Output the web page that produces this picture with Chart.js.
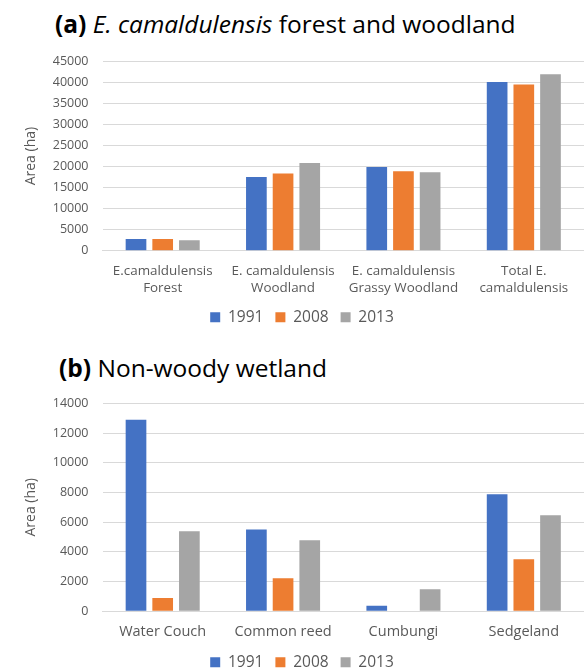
<!DOCTYPE html>
<html>
<head>
<meta charset="utf-8">
<script src="https://cdn.jsdelivr.net/npm/chart.js@4/dist/chart.umd.min.js"></script>
<style>
  html, body { margin: 0; padding: 0; background: #fff; width: 584px; height: 668px; overflow: hidden; }
  #wrap { position: relative; width: 584px; height: 668px; }
  .ttl { position: absolute; font-family: "Open Sans", sans-serif; font-size: 24.5px; line-height: 28px; color: #000; white-space: nowrap; }
  .ttl b { font-weight: 700; }
  .ttl i { font-style: italic; }
  canvas { position: absolute; left: 0; }
</style>
</head>
<body>
<div id="wrap">
  <div class="ttl" style="left:55px; top:10px;"><b>(a)</b> <i>E. camaldulensis</i> forest and woodland</div>
  <canvas id="chartA" width="584" height="300" style="top:40px;"></canvas>
  <div class="ttl" style="left:59px; top:354px;"><b>(b)</b> Non-woody wetland</div>
  <canvas id="chartB" width="584" height="350" style="top:340px;"></canvas>
</div>
<script>
// Survey years
const years = ['1991', '2008', '2013'];
const yearColors = ['#4472C4', '#ED7D31', '#A5A5A5'];

// (a) E. camaldulensis forest and woodland, area in hectares
const categoriesA = [
  ['E.camaldulensis', 'Forest'],
  ['E. camaldulensis', 'Woodland'],
  ['E. camaldulensis', 'Grassy Woodland'],
  ['Total E.', 'camaldulensis']
];
const forest1991 = [2800, 17550, 19900, 40100];
const forest2008 = [2800, 18350, 18900, 39500];
const forest2013 = [2500, 20850, 18650, 41950];
const ticksA = { max: 45000, step: 5000 };

// (b) Non-woody wetland, area in hectares
const categoriesB = ['Water Couch', 'Common reed', 'Cumbungi', 'Sedgeland'];
const wetland1991 = [12900, 5500, 380, 7880];
const wetland2008 = [900, 2220, 0, 3500];
const wetland2013 = [5380, 4780, 1480, 6460];
const ticksB = { max: 14000, step: 2000 };

const FONT = '"Open Sans", sans-serif';
const GREY_TEXT = '#595959';
const GRID = '#d9d9d9';

function buildChart(canvasId, labels, series, ticks, pad, xHeight, xFont) {
  return new Chart(document.getElementById(canvasId), {
    type: 'bar',
    data: {
      labels: labels,
      datasets: series.map((values, i) => ({
        label: years[i],
        data: values,
        backgroundColor: yearColors[i],
        borderWidth: 0,
        categoryPercentage: 0.665,
        barPercentage: 0.775
      }))
    },
    options: {
      responsive: false,
      animation: false,
      layout: { padding: pad },
      plugins: {
        tooltip: { enabled: false },
        legend: {
          position: 'bottom',
          labels: {
            boxWidth: 10,
            boxHeight: 10,
            padding: 12,
            color: GREY_TEXT,
            font: { family: FONT, size: 15.5 }
          }
        }
      },
      scales: {
        x: {
          grid: { drawOnChartArea: false, drawTicks: false },
          border: { display: true, color: GRID, width: 1 },
          ticks: {
            color: GREY_TEXT,
            padding: 12,
            maxRotation: 0,
            autoSkip: false,
            font: { family: FONT, size: xFont, lineHeight: 1.25 }
          },
          afterFit: s => { s.height = xHeight; }
        },
        y: {
          min: 0,
          max: ticks.max,
          grid: { color: GRID, lineWidth: 1, drawTicks: false },
          border: { display: false },
          ticks: {
            stepSize: ticks.step,
            color: GREY_TEXT,
            padding: 14,
            font: { family: FONT, size: 12.5 },
            callback: v => String(v)
          },
          title: {
            display: true,
            text: 'Area (ha)',
            color: GREY_TEXT,
            padding: { top: 3, bottom: 4 },
            font: { family: FONT, size: 14 }
          },
          afterFit: s => { s.width = 82.5; }
        }
      }
    }
  });
}

buildChart('chartA', categoriesA, [forest1991, forest2008, forest2013], ticksA,
  { left: 20, right: 0, top: 19.3, bottom: 5 }, 46.8, 13.4);
buildChart('chartB', categoriesB, [wetland1991, wetland2008, wetland2013], ticksB,
  { left: 20, right: 0, top: 63.3, bottom: 10 }, 31.2, 14.5);
</script>
</body>
</html>
